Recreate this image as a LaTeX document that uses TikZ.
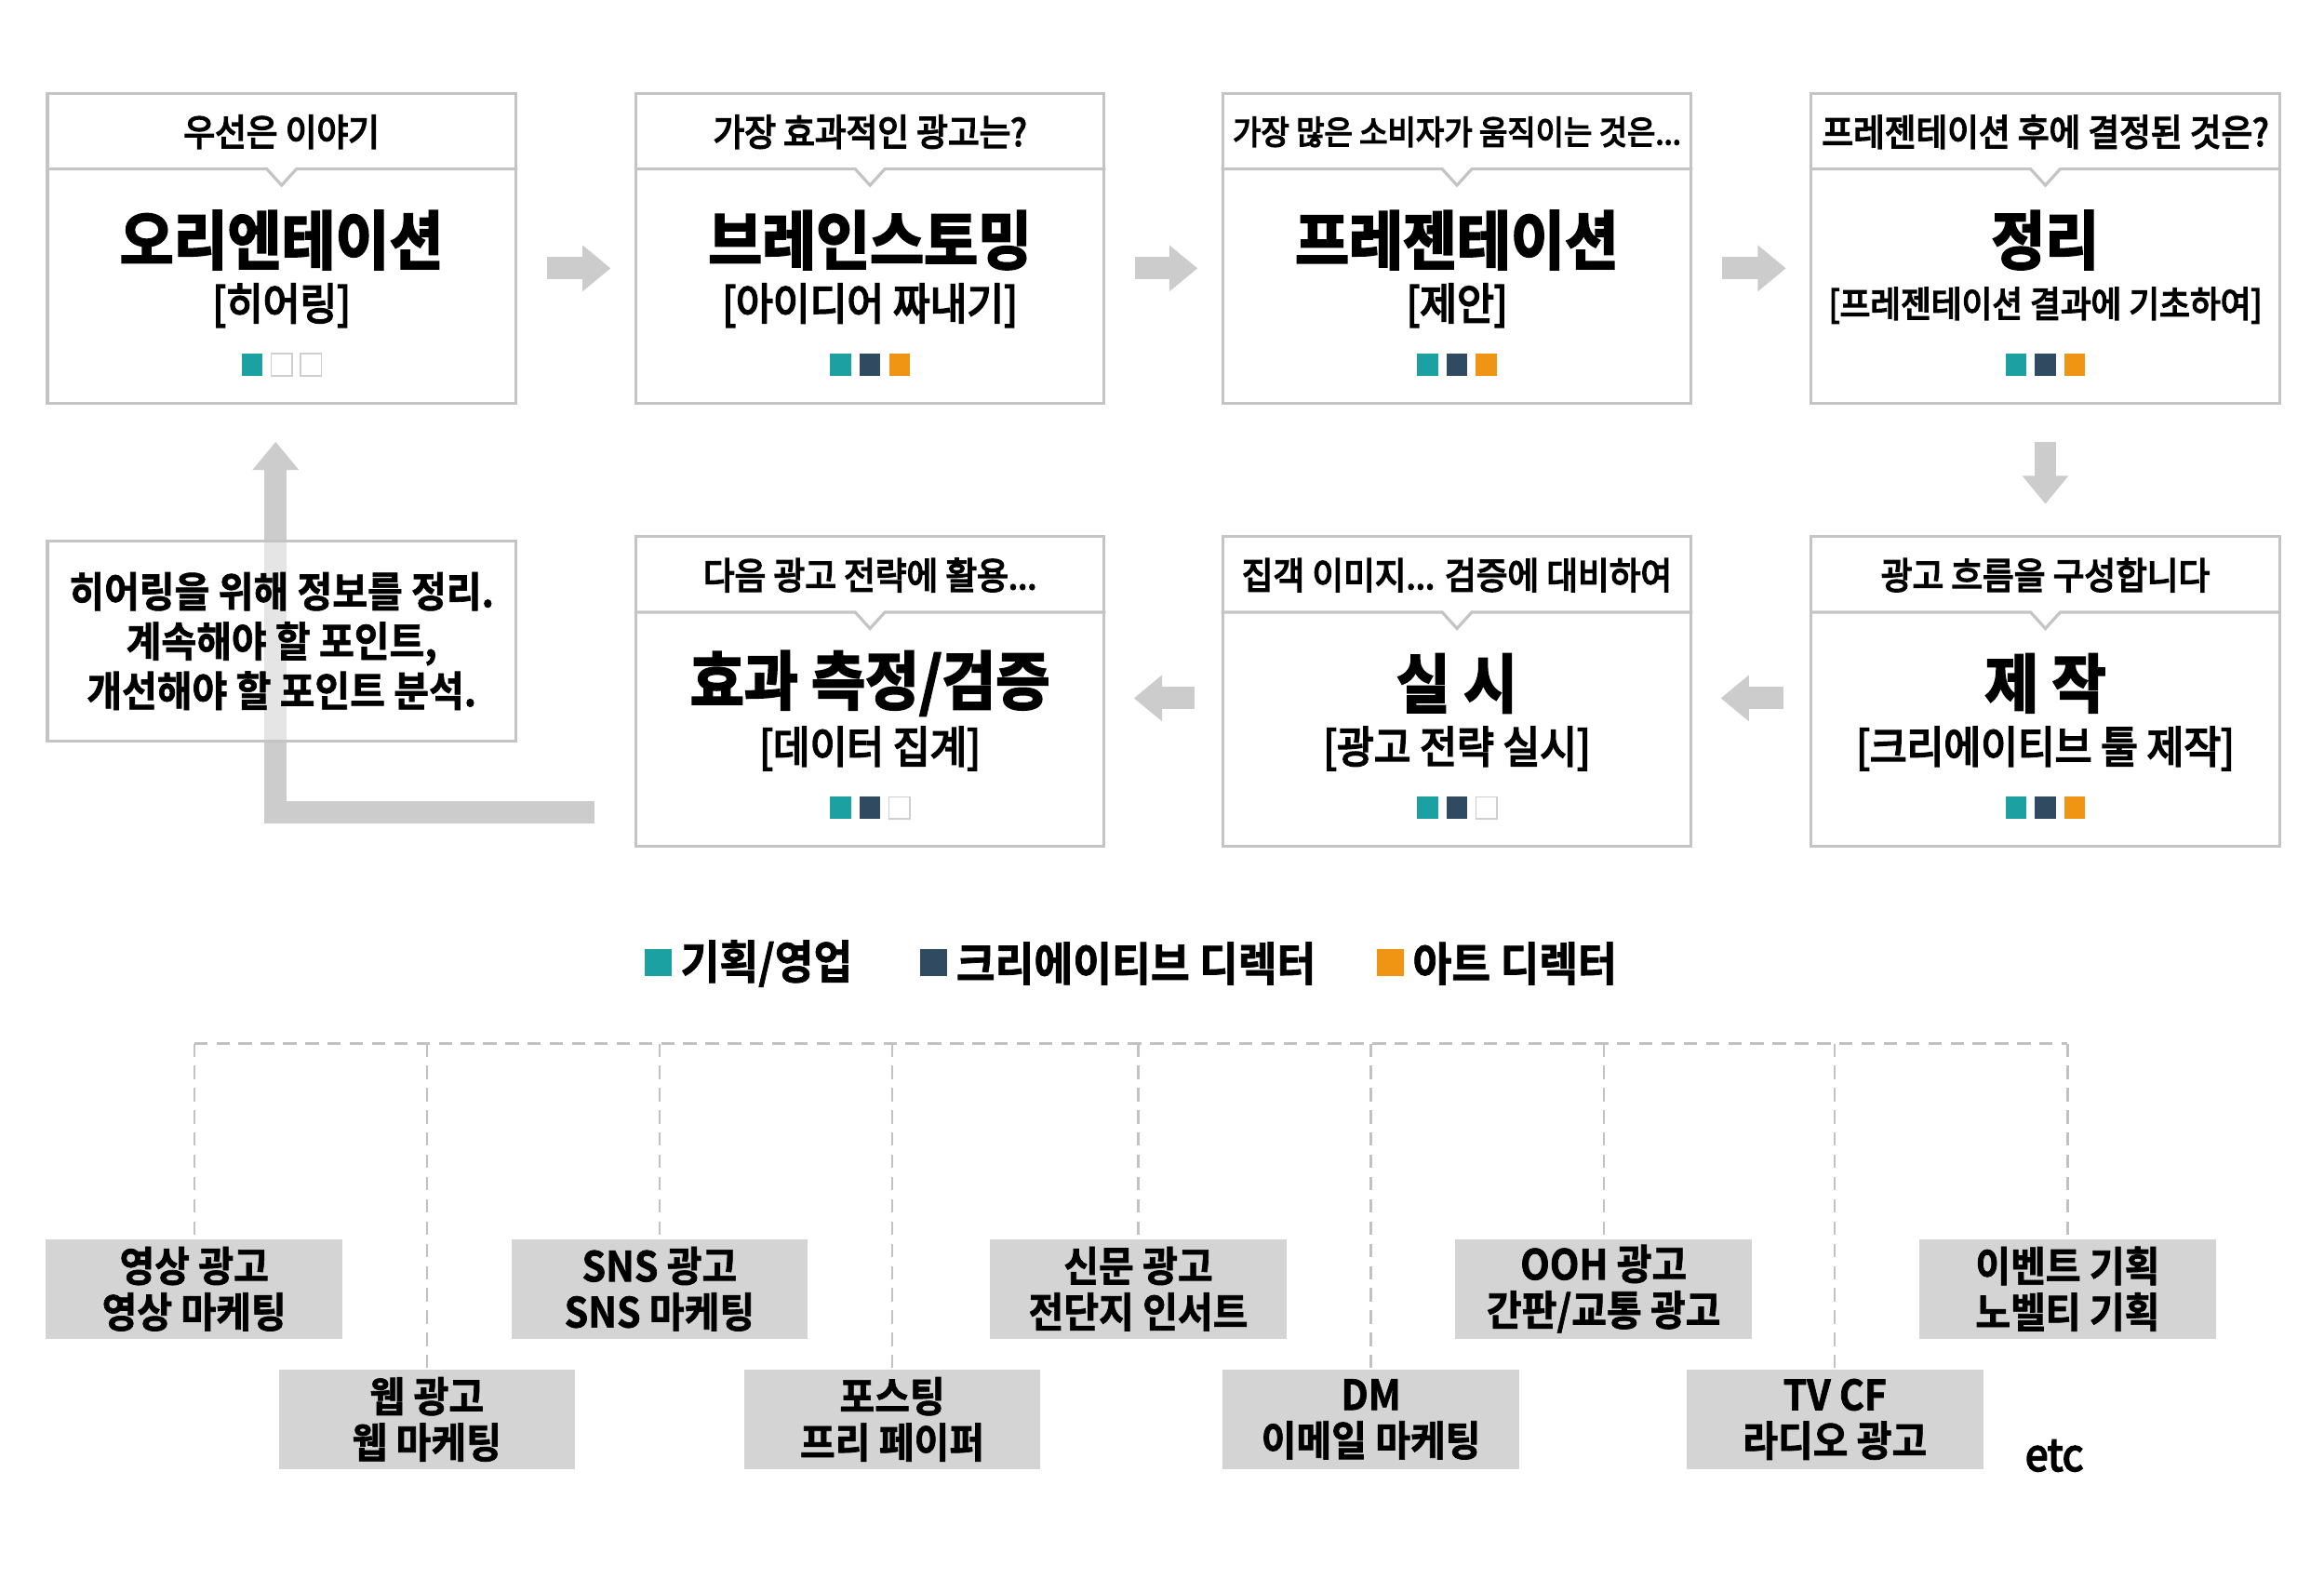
\documentclass[tikz,border=0pt]{standalone}
\usepackage{fontspec}
\setmainfont{Noto Sans CJK KR}[FakeStretch=0.92,BoldFont={Noto Sans CJK KR Bold}]
\newfontfamily\krmed{Noto Sans CJK KR}[FakeStretch=0.92,FakeBold=4]
\newfontfamily\krbold{Noto Sans CJK KR Bold}[FakeStretch=0.92]
\newfontfamily\krbolder{Noto Sans CJK KR Bold}[FakeStretch=0.92,FakeBold=1.5]
\newfontfamily\krheavy{Noto Sans CJK KR Bold}[FakeStretch=0.92,FakeBold=3]
\usetikzlibrary{calc,arrows.meta}

\definecolor{framegray}{HTML}{C4C4C4}
\definecolor{arrowgray}{HTML}{CCCCCC}
\definecolor{tealc}{HTML}{1BA1A1}
\definecolor{navyc}{HTML}{2F4A61}
\definecolor{orangec}{HTML}{F09413}
\definecolor{mediagray}{HTML}{D4D4D4}
\definecolor{dashgray}{HTML}{C2C2C2}
\definecolor{emptygray}{HTML}{CFCFCF}

\tikzset{
  stepframe/.style={draw=framegray, line width=2pt, fill=white, minimum width=316pt,
    minimum height=209pt, anchor=north west, inner sep=0pt},
  frameline/.style={draw=framegray, line width=2pt},
  hdr/.style={font={\krmed\fontsize{25}{29}\selectfont}, inner sep=0pt},
  ttl/.style={font={\krheavy\fontsize{43}{49}\selectfont}, inner sep=0pt},
  subt/.style={font={\krmed\fontsize{29.5}{34}\selectfont}, inner sep=0pt},
  sq/.style={minimum width=14pt, minimum height=15pt, inner sep=0pt},
  sqa/.style={sq, fill=tealc},
  sqb/.style={sq, fill=navyc},
  sqc/.style={sq, fill=orangec},
  sqe/.style={sq, fill=white, draw=emptygray, line width=1pt},
  blockarrow/.style={draw=arrowgray, line width=15pt, line join=miter,
    -{Triangle[width=30pt,length=19pt]}},
  notebox/.style={draw=framegray, line width=2pt, fill=white, fill opacity=0.5,
    text opacity=1, draw opacity=1, minimum width=316pt, minimum height=135pt,
    anchor=north west, inner sep=0pt, align=center,
    font={\krbolder\fontsize{28}{33.5}\selectfont}},
  legsq/.style={minimum width=18pt, minimum height=18pt, inner sep=0pt},
  legtxt/.style={anchor=west, inner sep=0pt, font={\krbolder\fontsize{31}{36}\selectfont}},
  media/.style={fill=mediagray, minimum width=200pt, minimum height=67pt, inner sep=0pt,
    align=center, font={\krbolder\fontsize{28}{31}\selectfont}},
  treeline/.style={draw=dashgray, line width=1.5pt, dash pattern=on 9pt off 6pt},
  etcstyle/.style={inner sep=0pt, font={\krmed\fontsize{30}{34}\selectfont}},
}

\newcommand\stepbox[9]{%
  \node[stepframe] (#1) at (#2,#3) {};
  \draw[frameline] ($(#1.north west)+(0,52)$) -- ($(#1.north)+(-10,52)$)
     -- ($(#1.north)+(0,63)$) -- ($(#1.north)+(10,52)$) -- ($(#1.north east)+(0,52)$);
  \node[hdr] (#1h) at ($(#1.north)+(0,27)$) {#4};
  \node[ttl] (#1t) at ($(#1.north)+(0,100)$) {#5};
  \node[subt] (#1s) at ($(#1.north)+(0,144)$) {#6};
  \node[#7] (#1q1) at ($(#1.north)+(-19.8,184)$) {};
  \node[#8] (#1q2) at ($(#1.north)+(0,184)$) {};
  \node[#9] (#1q3) at ($(#1.north)+(19.8,184)$) {};
}

\begin{document}
\begin{tikzpicture}[x=1pt,y=-1pt]
\fill[white] (0,0) rectangle (1568,1065);
\useasboundingbox (0,0) rectangle (1568,1065);

% top row
\stepbox{b1}{31}{62}{우선은 이야기}{오리엔테이션}{[히어링]}{sqa}{sqe}{sqe}
\stepbox{b2}{428}{62}{가장 효과적인 광고는?}{브레인스토밍}{[아이디어 짜내기]}{sqa}{sqb}{sqc}
\stepbox{b3}{824}{62}{\fontsize{22.5}{26}\selectfont 가장 많은 소비자가 움직이는 것은...}{프레젠테이션}{[제안]}{sqa}{sqb}{sqc}
\stepbox{b4}{1221}{62}{프레젠테이션 후에 결정된 것은?}{정리}{\fontsize{24.3}{28}\selectfont [프레젠테이션 결과에 기초하여]}{sqa}{sqb}{sqc}

% middle row
\stepbox{c1}{428}{361}{다음 광고 전략에 활용...}{효과 측정/검증}{[데이터 집계]}{sqa}{sqb}{sqe}
\stepbox{c2}{824}{361}{집객 이미지... 검증에 대비하여}{실 시}{[광고 전략 실시]}{sqa}{sqb}{sqe}
\stepbox{c3}{1221}{361}{광고 흐름을 구성합니다}{제 작}{[크리에이티브 툴 제작]}{sqa}{sqb}{sqc}

% flow arrows
\draw[blockarrow] ($(b1.north east)+(20,119)$) -- ($(b2.north west)+(-16,119)$);
\draw[blockarrow] ($(b2.north east)+(20,119)$) -- ($(b3.north west)+(-16,119)$);
\draw[blockarrow] ($(b3.north east)+(20,119)$) -- ($(b4.north west)+(-16,119)$);
\draw[blockarrow] ($(b4.south)+(0,25)$) -- ($(c3.north)+(0,-21)$);
\draw[blockarrow] ($(c3.north west)+(-18,110)$) -- ($(c2.north east)+(19,110)$);
\draw[blockarrow] ($(c2.north west)+(-18,110)$) -- ($(c1.north east)+(19,110)$);

% loop arrow back to orientation
\coordinate (loopstart) at ($(c1.north west)+(-27,187)$);
\coordinate (looptip) at ($(b1.south)+(-4,25)$);
\draw[blockarrow] (loopstart) -| (looptip);

% note box
\node[notebox] (note) at (31,364) {히어링을 위해 정보를 정리.\\계속해야 할 포인트,\\개선해야 할 포인트 분석.};

% legend
\node[legsq, fill=tealc] (l1) at (444,649.5) {};
\node[legtxt] (l1t) at (459,650) {기획/영업};
\node[legsq, fill=navyc] (l2) at (630,649.5) {};
\node[legtxt] (l2t) at (645,650) {크리에이티브 디렉터};
\node[legsq, fill=orangec] (l3) at (938,649.5) {};
\node[legtxt] (l3t) at (953,650) {아트 디렉터};

% media boxes
\node[media] (m1) at (131,869.5) {영상 광고\\영상 마케팅};
\node[media] (m2) at (288,957.5) {웹 광고\\웹 마케팅};
\node[media] (m3) at (445,869.5) {SNS 광고\\SNS 마케팅};
\node[media] (m4) at (602,957.5) {포스팅\\프리 페이퍼};
\node[media] (m5) at (768,869.5) {신문 광고\\전단지 인서트};
\node[media] (m6) at (925,957.5) {DM\\이메일 마케팅};
\node[media] (m7) at (1082,869.5) {OOH 광고\\간판/교통 광고};
\node[media] (m8) at (1238,957.5) {TV CF\\라디오 광고};
\node[media] (m9) at (1395,869.5) {이벤트 기획\\노벨티 기획};
\node[etcstyle] (etc) at (1386,982) {etc};

% dashed tree
\coordinate (bus) at (0,704);
\draw[treeline] (m1.north |- bus) -- (m9.north |- bus);
\foreach \m in {m1,m2,m3,m4,m5,m6,m7,m8,m9}{
  \draw[treeline] (\m.north |- bus) -- (\m.north);
}
\end{tikzpicture}
\end{document}
